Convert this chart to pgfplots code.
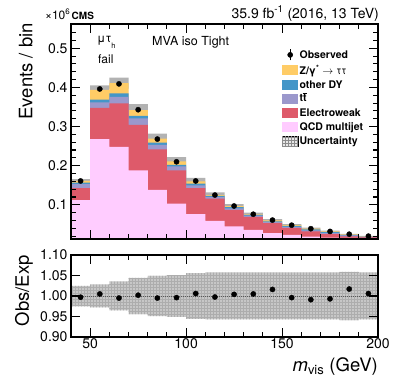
\documentclass[border=0pt]{standalone}
\usepackage{fontspec}
\setmainfont{TeX Gyre Heros}
\usepackage{pgfplots}
\pgfplotsset{compat=1.18}
\usepackage{pgfplotstable}
\usepgfplotslibrary{fillbetween}
\usetikzlibrary{patterns}

\definecolor{cztt}{RGB}{255,204,102}
\definecolor{cdy}{RGB}{68,150,200}
\definecolor{ctt}{RGB}{155,152,204}
\definecolor{cew}{RGB}{222,90,106}
\definecolor{cqcd}{RGB}{255,204,255}

% cumulative stack tops per bin (lower bin edge), band edges
\pgfplotstableread{
lo  qcd    ew     tt     dy     ztt    up     dn
40  0.112  0.143  0.153  0.157  0.1615 0.1655 0.1575
50  0.268  0.348  0.362  0.369  0.394  0.405  0.383
60  0.248  0.359  0.376  0.385  0.411  0.425  0.397
70  0.188  0.304  0.321  0.327  0.342  0.357  0.327
80  0.138  0.242  0.253  0.259  0.269  0.282  0.256
90  0.103  0.188  0.198  0.202  0.211  0.222  0.200
100 0.076  0.143  0.150  0.154  0.160  0.169  0.151
110 0.059  0.116  0.120  0.123  0.125  0.132  0.118
120 0.045  0.087  0.091  0.094  0.0966 0.1021 0.0911
130 0.036  0.069  0.0722 0.0742 0.0756 0.0799 0.0713
140 0.028  0.053  0.056  0.058  0.060  0.0634 0.0566
150 0.023  0.041  0.044  0.046  0.0482 0.0509 0.0455
160 0.019  0.032  0.035  0.037  0.0394 0.0416 0.0372
170 0.016  0.025  0.028  0.030  0.0322 0.0340 0.0304
180 0.0155 0.0195 0.022  0.023  0.0246 0.0261 0.0231
190 0.015  0.017  0.0185 0.019  0.0199 0.0210 0.0188
200 0.015  0.017  0.0185 0.019  0.0199 0.0210 0.0188
}\stack

\pgfplotstableread{
x   obs   ratio
45  0.161 0.997
55  0.396 1.005
65  0.409 0.995
75  0.343 1.002
85  0.268 0.995
95  0.210 0.996
105 0.161 1.006
115 0.125 0.9975
125 0.097 1.004
135 0.076 1.005
145 0.061 1.016
155 0.048 0.996
165 0.039 0.991
175 0.032 0.993
185 0.025 1.017
195 0.020 1.006
}\obsdata

\pgfplotstableread{
lo  rup   rdn
40  1.025 0.975
50  1.028 0.972
60  1.035 0.965
70  1.044 0.956
80  1.049 0.951
90  1.051 0.949
100 1.056 0.944
110 1.057 0.943
120 1.057 0.943
130 1.057 0.943
140 1.057 0.943
150 1.057 0.943
160 1.057 0.943
170 1.057 0.943
180 1.059 0.941
190 1.057 0.943
200 1.057 0.943
}\ratioband

\pgfplotsset{
  cms/.style={
    scale only axis, width=307pt, xmin=40, xmax=200,
    axis line style={line width=1.5pt},
    tick style={line width=1.1pt, black},
    major tick length=9pt, minor tick length=5pt,
    tick align=inside, xtick pos=both, ytick pos=both,
    xtick={50,100,150,200}, minor xtick={40,60,70,80,90,110,120,130,140,160,170,180,190},
    tick label style={font=\fontsize{14}{16}\selectfont},
    /pgf/number format/assume math mode=true,
    axis on top,
  },
  lbox/.style={legend image code/.code={\fill[#1] (0pt,-5pt) rectangle (16pt,5pt);}},
}

\newcommand{\tbar}{\ooalign{t\cr\hidewidth\raisebox{0.8em}{\rule{0.42em}{0.08em}}\hidewidth\cr}}

\begin{document}
\begin{tikzpicture}

\begin{axis}[cms, at={(71pt,-24pt)}, anchor=north west, height=215pt,
  ymin=0.0127, ymax=0.562,
  ytick={0.1,0.2,0.3,0.4,0.5}, minor ytick={0.02,0.04,...,0.56},
  xticklabels={},
  legend style={at={(0.686,0.885)}, anchor=north west, draw=none, fill=none,
    font=\bfseries\fontsize{10.5}{12}\selectfont, row sep=3pt, inner sep=0pt,
    nodes={inner sep=1pt}},
  legend cell align=left]
\addlegendimage{legend image code/.code={\draw[black,line width=0.9pt] (8pt,-5.5pt)--(8pt,5.5pt); \fill[black] (8pt,0pt) circle (2.6pt);}}
\addlegendentry{Observed}
\addplot[fill=cztt, draw=none, const plot, lbox=cztt] table[x=lo,y=ztt]{\stack} \closedcycle;
\addlegendentry{Z/γ\textsuperscript{*} $\rightarrow$ \mdseries ττ}
\addplot[fill=cdy, draw=none, const plot, lbox=cdy] table[x=lo,y=dy]{\stack} \closedcycle;
\addlegendentry{other DY}
\addplot[fill=ctt, draw=none, const plot, lbox=ctt] table[x=lo,y=tt]{\stack} \closedcycle;
\addlegendentry{t\tbar}
\addplot[fill=cew, draw=none, const plot, lbox=cew] table[x=lo,y=ew]{\stack} \closedcycle;
\addlegendentry{Electroweak}
\addplot[fill=cqcd, draw=none, const plot, lbox=cqcd] table[x=lo,y=qcd]{\stack} \closedcycle;
\addlegendentry{QCD multijet}
\addplot[name path=up, draw=none, const plot, forget plot] table[x=lo,y=up]{\stack};
\addplot[name path=dn, draw=none, const plot, forget plot] table[x=lo,y=dn]{\stack};
\addplot[fill=black, fill opacity=0.3, draw=none,
  legend image code/.code={\draw[black,line width=0.8pt,fill=black!30] (0pt,-5pt) rectangle (16pt,5pt); \fill[pattern=grid, pattern color=black!45] (0pt,-5pt) rectangle (16pt,5pt);}]
  fill between[of=up and dn];
\addlegendentry{Uncertainty}
\addplot[only marks, mark=*, mark size=2.6pt, black, forget plot] table[x=x,y=obs]{\obsdata};
\end{axis}

\begin{axis}[cms, at={(71pt,-255pt)}, anchor=north west, height=82pt,
  ymin=0.9, ymax=1.1, ytick={0.9,0.95,1,1.05,1.1},
  yticklabel style={/pgf/number format/.cd, fixed, fixed zerofill, precision=2},
  xticklabel style={yshift=2pt}]
\addplot[name path=rup, draw=none, const plot] table[x=lo,y=rup]{\ratioband};
\addplot[name path=rdn, draw=none, const plot] table[x=lo,y=rdn]{\ratioband};
\addplot[fill=black!22, draw=none, postaction={pattern=grid, pattern color=black!32}] fill between[of=rup and rdn];
\addplot[black!65, densely dotted, line width=1pt] coordinates {(40,1) (200,1)};
\addplot[only marks, mark=*, mark size=2.6pt, black] table[x=x,y=ratio]{\obsdata};
\end{axis}

\node[rotate=90, anchor=south east, font=\fontsize{18.5}{20}\selectfont, inner sep=0pt] at (33pt,-23pt) {Events / bin};
\node[rotate=90, anchor=south east, font=\fontsize{18.5}{20}\selectfont, inner sep=0pt] at (33pt,-255pt) {Obs/Exp};
\node[anchor=base east, font=\fontsize{18.5}{20}\selectfont, inner sep=0pt] at (378pt,-371pt) {\textit{m}\textsubscript{vis} (GeV)};
\node[anchor=base east, font=\fontsize{12}{13}\selectfont, inner sep=0pt] at (70.5pt,-19pt) {×10\textsuperscript{6}};
\node[anchor=base west, font=\bfseries\fontsize{10}{12}\selectfont, inner sep=0pt] at (71.5pt,-19pt) {CMS};
\node[anchor=base east, font=\fontsize{14}{16}\selectfont, inner sep=0pt] at (379pt,-18pt) {35.9 fb\textsuperscript{-1} (2016, 13 TeV)};
\node[anchor=base west, font=\fontsize{12}{14}\selectfont, inner sep=0pt] at (97pt,-42.5pt) {μτ\raisebox{-6pt}{\fontsize{7.5}{8}\selectfont h}};
\node[anchor=base west, font=\fontsize{12}{14}\selectfont, inner sep=0pt] at (98pt,-63.5pt) {fail};
\node[anchor=base west, font=\fontsize{12.5}{14}\selectfont, inner sep=0pt] at (152pt,-45.5pt) {MVA iso Tight};

\pgfresetboundingbox
\path[use as bounding box] (0,0) rectangle (399pt,-383pt);
\end{tikzpicture}
\end{document}
